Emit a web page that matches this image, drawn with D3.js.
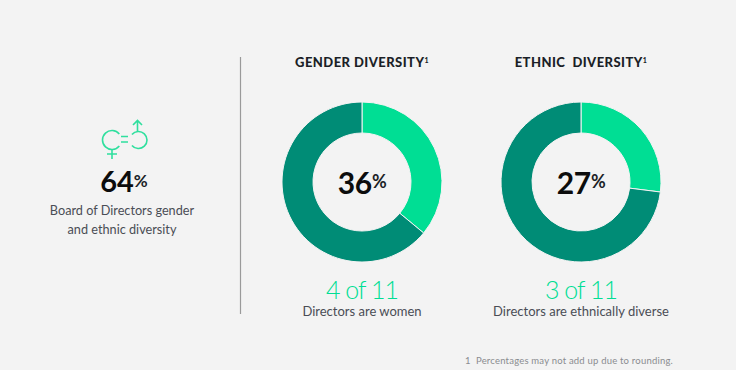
<!DOCTYPE html>
<html>
<head>
<meta charset="utf-8">
<script src="https://cdn.jsdelivr.net/npm/d3@7"></script>
<style>
html, body { margin: 0; padding: 0; background: #f3f3f3; }
svg { display: block; font-family: Lato, "Open Sans", sans-serif; }
</style>
</head>
<body>
<svg id="chart" width="736" height="370"></svg>
<script>
var titles = ["GENDER DIVERSITY", "ETHNIC  DIVERSITY"];
var centerLabels = ["36", "27"];
var highlighted = [36, 27];
var remainder = [64, 73];
var counts = ["4 of 11", "3 of 11"];
var captions = ["Directors are women", "Directors are ethnically diverse"];
var sliceColors = ["#00de94", "#008c76"];

var width = 736, height = 370;
var donutX = [362, 581];
var donutY = 182;
var outerR = 80, innerR = 49;

var svg = d3.select("#chart");
var pie = d3.pie().sort(null);
var arc = d3.arc().innerRadius(innerR).outerRadius(outerR);

titles.forEach((t, i) => {
    var g = svg.append("g").attr("transform", `translate(${donutX[i]},${donutY})`);

    g.selectAll("path")
        .data(pie([highlighted[i], remainder[i]]))
        .enter()
        .append("path")
        .attr("d", arc)
        .attr("fill", (d, j) => sliceColors[j])
        .attr("stroke", "#f3f3f3")
        .attr("stroke-width", 1);

    var title = svg.append("text")
        .attr("x", donutX[i])
        .attr("y", 67)
        .attr("text-anchor", "middle")
        .style("font-size", "13px")
        .style("font-weight", 900)
        .style("letter-spacing", "0.45px")
        .style("white-space", "pre")
        .style("fill", "#1b1f27")
        .text(t);
    title.append("tspan")
        .attr("dy", -4)
        .style("font-size", "7px")
        .text("1");

    var pct = g.append("text")
        .attr("y", 12)
        .attr("text-anchor", "middle")
        .style("font-size", "30px")
        .style("font-weight", 700)
        .style("letter-spacing", "-0.3px")
        .style("fill", "#0c0c0c")
        .text(centerLabels[i]);
    pct.append("tspan")
        .attr("dy", -6)
        .style("font-size", "18px")
        .style("fill", "#1b1f27")
        .text("%");

    svg.append("text")
        .attr("x", donutX[i])
        .attr("y", 299)
        .attr("text-anchor", "middle")
        .style("font-size", "25px")
        .style("font-weight", 300)
        .style("letter-spacing", "-1px")
        .style("fill", "#00de94")
        .text(counts[i]);

    svg.append("text")
        .attr("x", donutX[i])
        .attr("y", 316)
        .attr("text-anchor", "middle")
        .style("font-size", "13px")
        .style("font-weight", 400)
        .style("fill", "#4a4d55")
        .text(captions[i]);
});

// divider
svg.append("line")
    .attr("x1", 240.5).attr("x2", 240.5)
    .attr("y1", 57).attr("y2", 314)
    .attr("stroke", "#9a9a9a")
    .attr("stroke-width", 1.2);

// left panel icon
var icon = svg.append("g")
    .attr("fill", "none")
    .attr("stroke", "#2fdf9e")
    .attr("stroke-width", 1.6);
icon.append("path")
    .attr("d", d3.arc()({ innerRadius: 9.5, outerRadius: 9.5, startAngle: Math.PI * 0.72, endAngle: Math.PI * 2.28 }))
    .attr("transform", "translate(112,140)");
icon.append("path")
    .attr("d", d3.arc()({ innerRadius: 8.5, outerRadius: 8.5, startAngle: -Math.PI * 0.28, endAngle: Math.PI * 1.28 }))
    .attr("transform", "translate(138.5,140)");
icon.append("path").attr("d", "M121 136.5H128M121 142H128");
icon.append("path").attr("d", "M112 149.5V159M107 154H117");
icon.append("path").attr("d", "M137.5 131.5V120.5M133 125L137.5 120.5L142 125");

var big = svg.append("text")
    .attr("x", 124)
    .attr("y", 192)
    .attr("text-anchor", "middle")
    .style("font-size", "29px")
    .style("font-weight", 700)
    .style("fill", "#0c0c0c")
    .text("64");
big.append("tspan")
    .attr("dy", -5)
    .style("font-size", "17px")
    .style("fill", "#1b1f27")
    .text("%");

["Board of Directors gender", "and ethnic diversity"].forEach((t, i) => {
    svg.append("text")
        .attr("x", 122)
        .attr("y", 215 + i * 19)
        .attr("text-anchor", "middle")
        .style("font-size", "12.7px")
        .style("fill", "#4a4d55")
        .text(t);
});

svg.append("text")
    .attr("x", 465)
    .attr("y", 364)
    .style("font-size", "9.5px")
    .style("letter-spacing", "0.2px")
    .style("white-space", "pre")
    .style("fill", "#8a8c90")
    .text("1  Percentages may not add up due to rounding.");
</script>
</body>
</html>
